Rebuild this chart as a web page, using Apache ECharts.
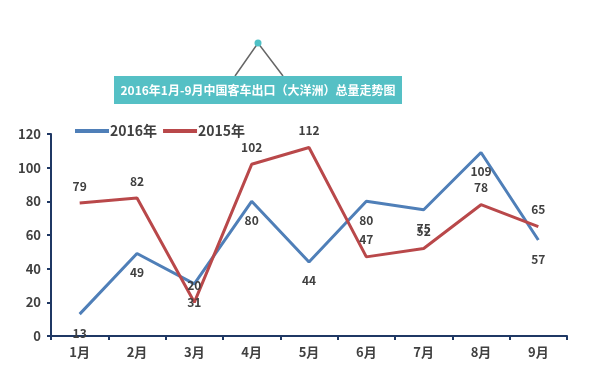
<!DOCTYPE html>
<html>
<head>
<meta charset="utf-8">
<script src="https://cdn.jsdelivr.net/npm/echarts@6/dist/echarts.min.js"></script>
<style>
  html, body { margin: 0; padding: 0; background: #fff; }
  #chart { width: 590px; height: 375px; }
</style>
</head>
<body>
<div id="chart"></div>
<script>
'use strict';

var months = ['1月', '2月', '3月', '4月', '5月', '6月', '7月', '8月', '9月'];
var sales2016 = [13, 49, 31, 80, 44, 80, 75, 109, 57];
var sales2015 = [79, 82, 20, 102, 112, 47, 52, 78, 65];
var titleText = '2016年1月-9月中国客车出口（大洋洲）总量走势图';

var axisColor = '#1f3864';
var textColor = '#404040';
var font = '"Noto Sans CJK SC", "Liberation Sans", sans-serif';

var myChart = echarts.init(document.getElementById('chart'));

var option = {
  backgroundColor: '#ffffff',
  textStyle: { fontFamily: font },
  legend: {
    left: 70,
    top: 119,
    itemWidth: 34,
    itemHeight: 4,
    itemGap: 6,
    icon: 'rect',
    textStyle: { color: textColor, fontSize: 14, fontWeight: 'bold', padding: [0, 0, 0, -4] },
    data: ['2016年', '2015年']
  },
  grid: { left: 51, right: 23, top: 134, bottom: 39 },
  xAxis: {
    type: 'category',
    data: months,
    boundaryGap: true,
    axisLine: { lineStyle: { color: axisColor, width: 2 } },
    axisTick: { show: true, inside: false, length: 4, lineStyle: { color: axisColor, width: 2 } },
    axisLabel: { color: textColor, fontSize: 13, fontWeight: 'bold', margin: 10 }
  },
  yAxis: {
    type: 'value',
    min: 0,
    max: 120,
    interval: 20,
    splitLine: { show: false },
    axisLine: { show: true, lineStyle: { color: axisColor, width: 2 } },
    axisTick: { show: true, length: 4, lineStyle: { color: axisColor, width: 2 } },
    axisLabel: { color: textColor, fontSize: 13, fontWeight: 'bold', margin: 10 }
  },
  series: [
    {
      name: '2016年',
      type: 'line',
      data: sales2016,
      symbol: 'circle',
      symbolSize: 0,
      showSymbol: true,
      lineStyle: { color: '#4f7fb8', width: 3 },
      itemStyle: { color: '#4f7fb8' },
      label: {
        show: true,
        position: 'bottom',
        distance: 13,
        color: textColor,
        fontSize: 12,
        fontWeight: 'bold'
      }
    },
    {
      name: '2015年',
      type: 'line',
      data: sales2015,
      symbol: 'circle',
      symbolSize: 0,
      showSymbol: true,
      lineStyle: { color: '#b9484a', width: 3 },
      itemStyle: { color: '#b9484a' },
      label: {
        show: true,
        position: 'top',
        distance: 11,
        color: textColor,
        fontSize: 12,
        fontWeight: 'bold'
      }
    }
  ],
  graphic: [
    {
      type: 'polyline',
      shape: { points: [[235, 76], [258, 43], [283, 76]] },
      style: { stroke: '#666666', lineWidth: 1.5, fill: null }
    },
    {
      type: 'circle',
      shape: { cx: 258, cy: 43, r: 3.5 },
      style: { fill: '#4fc1c6' }
    },
    {
      type: 'rect',
      shape: { x: 114, y: 76, width: 288, height: 28 },
      style: { fill: '#55c0c5' }
    },
    {
      type: 'text',
      x: 258,
      y: 90,
      style: {
        text: titleText,
        fill: '#ffffff',
        font: 'bold 12px ' + font,
        align: 'center',
        verticalAlign: 'middle'
      }
    }
  ]
};

myChart.setOption(option);
</script>
</body>
</html>
